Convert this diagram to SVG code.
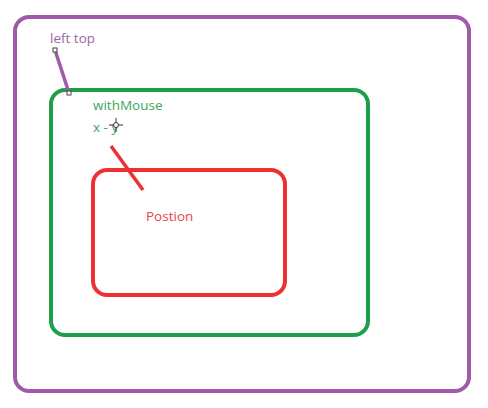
<svg xmlns="http://www.w3.org/2000/svg" width="488" height="408" viewBox="0 0 488 408">
<style>
.box{fill:none;stroke-width:4}
.lbl{font-family:"Open Sans","Liberation Sans",sans-serif;font-size:13.5px}
.h{fill:#fff;stroke:#444;stroke-width:1}
</style>
<rect width="488" height="408" fill="#fff"/>
<g id="outer">
<rect class="box" x="15" y="17" width="454" height="374" rx="14" stroke="#9f5aa8"/>
<text class="lbl" x="50" y="43" fill="#a064a8">left top</text>
</g>
<g id="withMouse">
<rect class="box" x="51" y="90" width="317" height="245" rx="14" stroke="#1d9e49"/>
<text class="lbl" x="93" y="110" fill="#3aa660">withMouse</text>
<text class="lbl" x="93" y="132" fill="#3aa660">x - y</text>
</g>
<g id="cursor" stroke="#333" stroke-width="1" fill="none">
<line x1="109" y1="125" x2="123" y2="125"/>
<line x1="116" y1="118" x2="116" y2="132"/>
<circle cx="116" cy="125" r="2.5" fill="#fff"/>
</g>
<g id="position">
<rect class="box" x="93" y="170" width="192" height="125" rx="14" stroke="#ee3030"/>
<text class="lbl" x="146" y="221" fill="#e84545" font-size="14.5">Postion</text>
</g>
<g id="connectors">
<line x1="55" y1="50" x2="69" y2="93" stroke="#9f5aa8" stroke-width="3.5"/>
<rect class="h" x="53" y="48" width="4" height="4"/>
<rect class="h" x="67" y="91" width="4" height="4"/>
<line x1="111" y1="146" x2="143" y2="190" stroke="#ee3030" stroke-width="3.5"/>
</g>
</svg>
